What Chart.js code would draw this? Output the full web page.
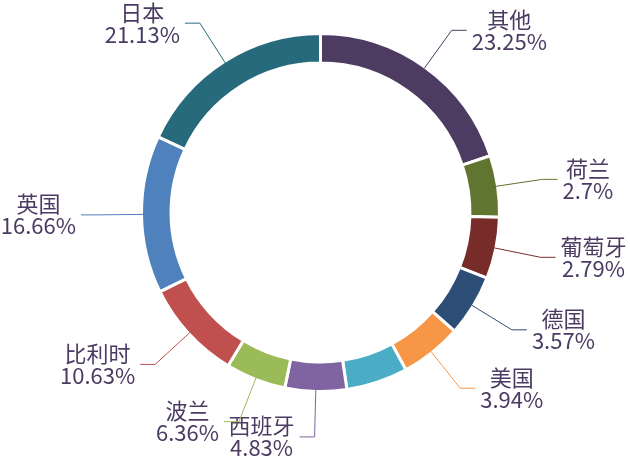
<!DOCTYPE html>
<html>
<head>
<meta charset="utf-8">
<script src="https://cdn.jsdelivr.net/npm/chart.js@4"></script>
<style>
  html, body { margin: 0; padding: 0; background: #fff; }
  #wrap { width: 630px; height: 458px; }
</style>
</head>
<body>
<div id="wrap"><canvas id="pieChart"></canvas></div>
<script>
const countries = ['其他', '荷兰', '葡萄牙', '德国', '美国', '法国', '西班牙', '波兰', '比利时', '英国', '日本'];
const shares = [23.25, 2.7, 2.79, 3.57, 3.94, 4.14, 4.83, 6.36, 10.63, 16.66, 21.13];
const hiddenLabels = ['法国'];
const colors = ['#4d3b62', '#5f7530', '#772c2a', '#2c4d75', '#f79646', '#4bacc6', '#8064a2', '#9bbb59', '#c0504d', '#4f81bd', '#276a7c'];

// small slices get at least 20 degrees, the big ones share what is left
const minAngle = 20;
const total = shares.reduce((a, b) => a + b, 0);
let rest = 360, bigSum = 0;
shares.forEach(v => {
  if (v / total * 360 < minAngle) rest -= minAngle;
  else bigSum += v;
});
const sliceSizes = shares.map(v => v / total * 360 < minAngle ? minAngle : v / bigSum * rest);

// labels outside the ring with a bent leader line
const outsideLabels = {
  id: 'outsideLabels',
  afterDatasetsDraw(chart) {
    const ctx = chart.ctx;
    const meta = chart.getDatasetMeta(0);
    ctx.save();
    ctx.font = '22px "Noto Sans CJK SC"';
    ctx.textBaseline = 'middle';
    ctx.textAlign = 'center';
    meta.data.forEach((arc, i) => {
      if (hiddenLabels.includes(countries[i])) return;
      const { x, y, startAngle, endAngle, outerRadius } =
        arc.getProps(['x', 'y', 'startAngle', 'endAngle', 'outerRadius'], true);
      const mid = (startAngle + endAngle) / 2;
      const cos = Math.cos(mid), sin = Math.sin(mid);
      const r0 = outerRadius - 1.5;
      const x0 = x + cos * r0, y0 = y + sin * r0;
      const x1 = x + cos * (r0 + 47), y1 = y + sin * (r0 + 47);
      const right = cos >= 0;
      const x2 = x1 + (right ? 15 : -15);
      ctx.strokeStyle = colors[i];
      ctx.lineWidth = 1;
      ctx.beginPath();
      ctx.moveTo(x0, y0);
      ctx.lineTo(x1, y1);
      ctx.lineTo(x2, y1);
      ctx.stroke();
      const name = countries[i], pct = shares[i] + '%';
      const w = Math.max(ctx.measureText(name).width, ctx.measureText(pct).width);
      const cx = right ? x2 + 5 + w / 2 : x2 - 5 - w / 2;
      ctx.fillStyle = '#4b3b63';
      ctx.fillText(name, cx, y1 - 11);
      ctx.fillText(pct, cx, y1 + 11);
    });
    ctx.restore();
  }
};

new Chart(document.getElementById('pieChart'), {
  type: 'doughnut',
  data: {
    labels: countries,
    datasets: [{
      data: sliceSizes,
      backgroundColor: colors,
      borderColor: '#ffffff',
      borderWidth: 3
    }]
  },
  options: {
    responsive: true,
    maintainAspectRatio: false,
    animation: false,
    radius: 179,
    cutout: '83.5%',
    layout: { padding: { left: 11, right: 0, top: 0, bottom: 33 } },
    plugins: {
      legend: { display: false },
      tooltip: { enabled: false }
    }
  },
  plugins: [outsideLabels]
});
</script>
</body>
</html>
